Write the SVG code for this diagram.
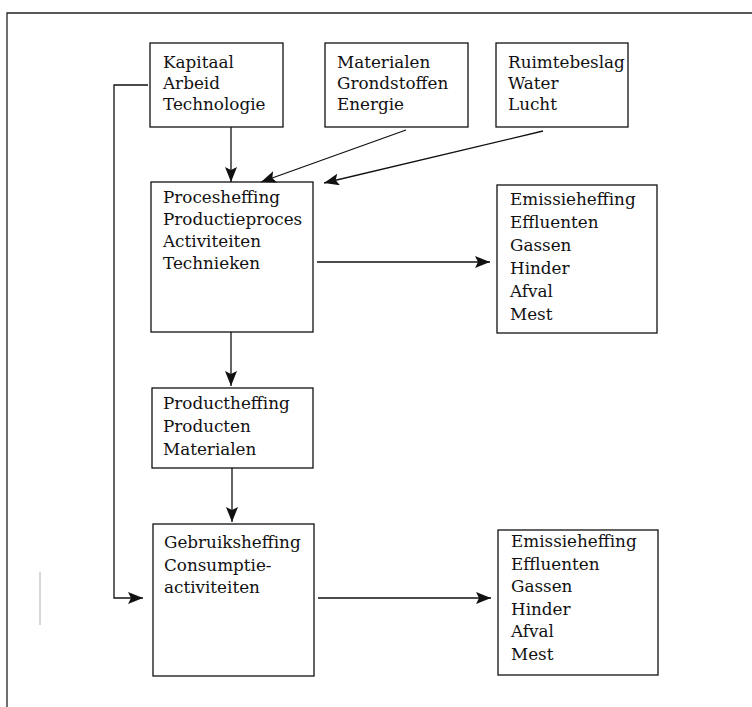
<svg xmlns="http://www.w3.org/2000/svg" width="752" height="707" viewBox="0 0 752 707">
<defs>
<marker id="ah" markerWidth="15" markerHeight="12" refX="15" refY="6" orient="auto" markerUnits="userSpaceOnUse">
<path d="M0,0 L15,6 L0,12 L3,6 Z" fill="#111"/>
</marker>
</defs>
<style>
.box{fill:#fff;stroke:#111;stroke-width:1.3}
.t{font-family:"DejaVu Serif","Liberation Serif",serif;font-size:16.8px;fill:#111}
.c{fill:none;stroke:#111;stroke-width:1.3}
.frame{fill:none;stroke:#222;stroke-width:1.3}
</style>
<rect width="752" height="707" fill="#fff"/>
<path class="frame" d="M7,707 L7,13 L752,13"/>
<line x1="40" y1="572" x2="40" y2="625" stroke="#999" stroke-width="0.8"/>
<g id="n-kapitaal"><rect class="box" x="150" y="43" width="133" height="84"/>
<text class="t" x="163" y="68">Kapitaal</text><text class="t" x="163" y="89">Arbeid</text><text class="t" x="163" y="110">Technologie</text></g>
<g id="n-materialen"><rect class="box" x="325" y="43" width="143" height="84"/>
<text class="t" x="337" y="68">Materialen</text><text class="t" x="337" y="89">Grondstoffen</text><text class="t" x="337" y="110">Energie</text></g>
<g id="n-ruimte"><rect class="box" x="496" y="43" width="132" height="84"/>
<text class="t" x="508" y="68">Ruimtebeslag</text><text class="t" x="508" y="89">Water</text><text class="t" x="508" y="110">Lucht</text></g>
<g id="n-proces"><rect class="box" x="151" y="182" width="162" height="150"/>
<text class="t" x="163" y="203">Procesheffing</text><text class="t" x="163" y="225">Productieproces</text><text class="t" x="163" y="247">Activiteiten</text><text class="t" x="163" y="269">Technieken</text></g>
<g id="n-emissie1"><rect class="box" x="497" y="185" width="160" height="148"/>
<text class="t" x="510" y="205">Emissieheffing</text><text class="t" x="510" y="228">Effluenten</text><text class="t" x="510" y="251">Gassen</text><text class="t" x="510" y="274">Hinder</text><text class="t" x="510" y="297">Afval</text><text class="t" x="510" y="320">Mest</text></g>
<g id="n-product"><rect class="box" x="152" y="388" width="161" height="80"/>
<text class="t" x="163" y="409">Productheffing</text><text class="t" x="163" y="432">Producten</text><text class="t" x="163" y="455">Materialen</text></g>
<g id="n-gebruik"><rect class="box" x="153" y="524" width="161" height="152"/>
<text class="t" x="164" y="548">Gebruiksheffing</text><text class="t" x="164" y="571">Consumptie-</text><text class="t" x="164" y="593">activiteiten</text></g>
<g id="n-emissie2"><rect class="box" x="498" y="530" width="160" height="145"/>
<text class="t" x="511" y="547">Emissieheffing</text><text class="t" x="511" y="570">Effluenten</text><text class="t" x="511" y="592">Gassen</text><text class="t" x="511" y="615">Hinder</text><text class="t" x="511" y="637">Afval</text><text class="t" x="511" y="660">Mest</text></g>
<g id="connectors">
<line class="c" x1="231" y1="127" x2="231" y2="182" marker-end="url(#ah)"/>
<line class="c" x1="406" y1="130" x2="261" y2="182" marker-end="url(#ah)"/>
<line class="c" x1="543" y1="131" x2="324" y2="183" marker-end="url(#ah)"/>
<line class="c" x1="317" y1="262" x2="490" y2="262" marker-end="url(#ah)"/>
<line class="c" x1="231" y1="332" x2="231" y2="386" marker-end="url(#ah)"/>
<line class="c" x1="232" y1="468" x2="232" y2="522" marker-end="url(#ah)"/>
<path class="c" d="M148,85 L114,85 L114,598 L143,598" marker-end="url(#ah)"/>
<line class="c" x1="318" y1="598" x2="491" y2="598" marker-end="url(#ah)"/>
</g>
</svg>
